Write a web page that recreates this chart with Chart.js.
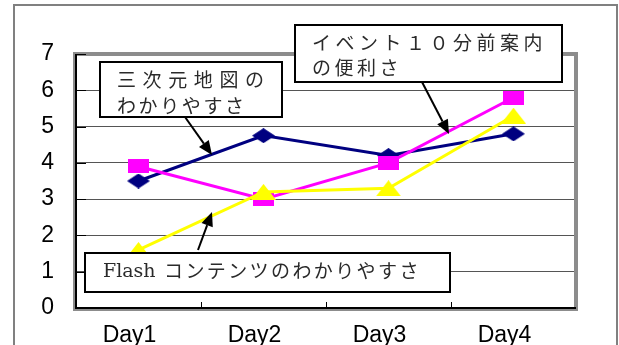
<!DOCTYPE html>
<html>
<head>
<meta charset="utf-8">
<script src="https://cdn.jsdelivr.net/npm/chart.js@4/dist/chart.umd.min.js"></script>
<style>
  html, body { margin: 0; padding: 0; background: #fff; }
  #wrap { width: 619px; height: 345px; position: relative; }
</style>
</head>
<body>
<div id="wrap"><canvas id="chart"></canvas></div>
<script>
// данные графика
const days = ['Day1', 'Day2', 'Day3', 'Day4'];
const mapValues = [3.5, 4.75, 4.2, 4.8];
const eventValues = [3.9, 3.0, 4.0, 5.8];
const flashValues = [1.6, 3.2, 3.3, 5.3];
const yTicks = [0, 1, 2, 3, 4, 5, 6, 7];

const mapLabel = ['三次元地図の', 'わかりやすさ'];
const eventLabel = ['イベント１０分前案内', 'の便利さ'];
const flashLabel = 'コンテンツのわかりやすさ';

// маркеры (в оригинале растянуты по горизонтали)
function makeMarker(shape, w, h, color) {
  const c = document.createElement('canvas');
  c.width = w;
  c.height = h;
  const ctx = c.getContext('2d');
  ctx.fillStyle = color;
  ctx.beginPath();
  if (shape === 'diamond') {
    ctx.moveTo(w / 2, 0);
    ctx.lineTo(w, h / 2);
    ctx.lineTo(w / 2, h);
    ctx.lineTo(0, h / 2);
  } else if (shape === 'triangle') {
    ctx.moveTo(w / 2, 0);
    ctx.lineTo(w, h);
    ctx.lineTo(0, h);
  } else {
    ctx.rect(0, 0, w, h);
  }
  ctx.closePath();
  ctx.fill();
  return c;
}

const frameAndAxes = {
  id: 'frameAndAxes',
  beforeDraw(chart) {
    const { ctx } = chart;
    ctx.save();
    ctx.strokeStyle = '#808080';
    ctx.lineWidth = 2;
    ctx.strokeRect(14, 5, 603, 400);
    ctx.restore();
  },
  beforeDatasetsDraw(chart) {
    const { ctx, chartArea: { left, top, right, bottom }, scales: { x, y } } = chart;
    ctx.save();
    // серая рамка области построения
    ctx.strokeStyle = '#8c8c8c';
    ctx.lineWidth = 4;
    ctx.strokeRect(left - 1, top, right - left + 1, bottom - top + 1);
    // оси
    ctx.strokeStyle = '#000';
    ctx.lineWidth = 2;
    ctx.beginPath();
    ctx.moveTo(left, top);
    ctx.lineTo(left, bottom);
    ctx.lineTo(right, bottom);
    ctx.stroke();
    // засечки внутрь
    ctx.lineWidth = 1;
    ctx.beginPath();
    yTicks.forEach((v) => {
      const py = Math.round(y.getPixelForValue(v)) + 0.5;
      ctx.moveTo(left, py);
      ctx.lineTo(left + 10, py);
    });
    for (let i = 1; i < days.length; i += 1) {
      const px = Math.round((x.getPixelForValue(i - 1) + x.getPixelForValue(i)) / 2) + 0.5;
      ctx.moveTo(px, bottom);
      ctx.lineTo(px, bottom - 6);
    }
    ctx.stroke();
    ctx.restore();
  },
};

function drawArrow(ctx, x1, y1, x2, y2) {
  const ang = Math.atan2(y2 - y1, x2 - x1);
  const len = 14;
  const half = 6;
  const bx = x2 - len * Math.cos(ang);
  const by = y2 - len * Math.sin(ang);
  ctx.beginPath();
  ctx.moveTo(x1, y1);
  ctx.lineTo(bx, by);
  ctx.stroke();
  ctx.beginPath();
  ctx.moveTo(x2, y2);
  ctx.lineTo(bx + half * Math.sin(ang), by - half * Math.cos(ang));
  ctx.lineTo(bx - half * Math.sin(ang), by + half * Math.cos(ang));
  ctx.closePath();
  ctx.fill();
}

function spacedText(ctx, text, x, yy, step) {
  [...text].forEach((ch, i) => ctx.fillText(ch, x + i * step, yy));
}

function box(ctx, x, y, w, h) {
  ctx.fillStyle = '#fff';
  ctx.fillRect(x, y, w, h);
  ctx.strokeStyle = '#000';
  ctx.lineWidth = 2;
  ctx.strokeRect(x, y, w, h);
}

const callouts = {
  id: 'callouts',
  afterDraw(chart) {
    const { ctx } = chart;
    ctx.save();
    ctx.strokeStyle = '#000';
    ctx.fillStyle = '#000';
    ctx.lineWidth = 2;
    drawArrow(ctx, 185, 117, 212, 155);
    drawArrow(ctx, 422, 82, 449, 134);
    drawArrow(ctx, 198, 250, 212, 212);

    const jp = '19px "Noto Sans CJK JP"';
    ctx.textBaseline = 'middle';

    box(ctx, 100, 62, 182, 55);
    ctx.fillStyle = '#2a2a2a';
    ctx.font = jp;
    spacedText(ctx, mapLabel[0], 117, 80, 25.6);
    spacedText(ctx, mapLabel[1], 117, 106, 21.6);

    box(ctx, 295, 25, 267, 57);
    ctx.fillStyle = '#2a2a2a';
    ctx.font = jp;
    spacedText(ctx, eventLabel[0], 312, 43, 23.5);
    spacedText(ctx, eventLabel[1], 312, 68, 22.5);

    box(ctx, 85, 253, 365, 39);
    ctx.fillStyle = '#2a2a2a';
    ctx.font = '19px "DejaVu Serif"';
    ctx.fillText('Flash', 103, 272);
    ctx.font = jp;
    spacedText(ctx, flashLabel, 164, 271, 21.4);
    ctx.restore();
  },
};

new Chart(document.getElementById('chart'), {
  type: 'line',
  data: {
    labels: days,
    datasets: [
      {
        label: '三次元地図のわかりやすさ',
        data: mapValues,
        borderColor: '#000080',
        borderWidth: 3,
        pointStyle: makeMarker('diamond', 23, 15, '#000080'),
        order: 3,
      },
      {
        label: 'イベント１０分前案内の便利さ',
        data: eventValues,
        borderColor: '#ff00ff',
        borderWidth: 3,
        pointStyle: makeMarker('square', 21, 14, '#ff00ff'),
        order: 2,
      },
      {
        label: 'Flash コンテンツのわかりやすさ',
        data: flashValues,
        borderColor: '#ffff00',
        borderWidth: 3,
        pointStyle: makeMarker('triangle', 25, 16, '#ffff00'),
        order: 1,
      },
    ],
  },
  options: {
    responsive: true,
    maintainAspectRatio: false,
    animation: false,
    layout: {
      padding: { top: 54, right: 43, bottom: 0, left: 0 },
    },
    elements: {
      line: { tension: 0 },
    },
    scales: {
      x: {
        offset: true,
        afterFit: (scale) => { scale.height = 37; },
        grid: { display: false },
        border: { display: false },
        ticks: {
          color: '#000',
          font: { family: "'Liberation Sans', Arial", size: 23 },
          padding: 6,
          labelOffset: -9,
          maxRotation: 0,
        },
      },
      y: {
        min: 0,
        max: 7,
        afterFit: (scale) => { scale.width = 76; },
        afterBuildTicks: (scale) => { scale.ticks = yTicks.map((v) => ({ value: v })); },
        grid: { color: '#555', lineWidth: 1, drawTicks: false },
        border: { display: false },
        ticks: {
          color: '#000',
          font: { family: "'Liberation Sans', Arial", size: 23 },
          padding: 22,
        },
      },
    },
    plugins: {
      legend: { display: false },
      tooltip: { enabled: false },
    },
  },
  plugins: [frameAndAxes, callouts],
});
</script>
</body>
</html>
